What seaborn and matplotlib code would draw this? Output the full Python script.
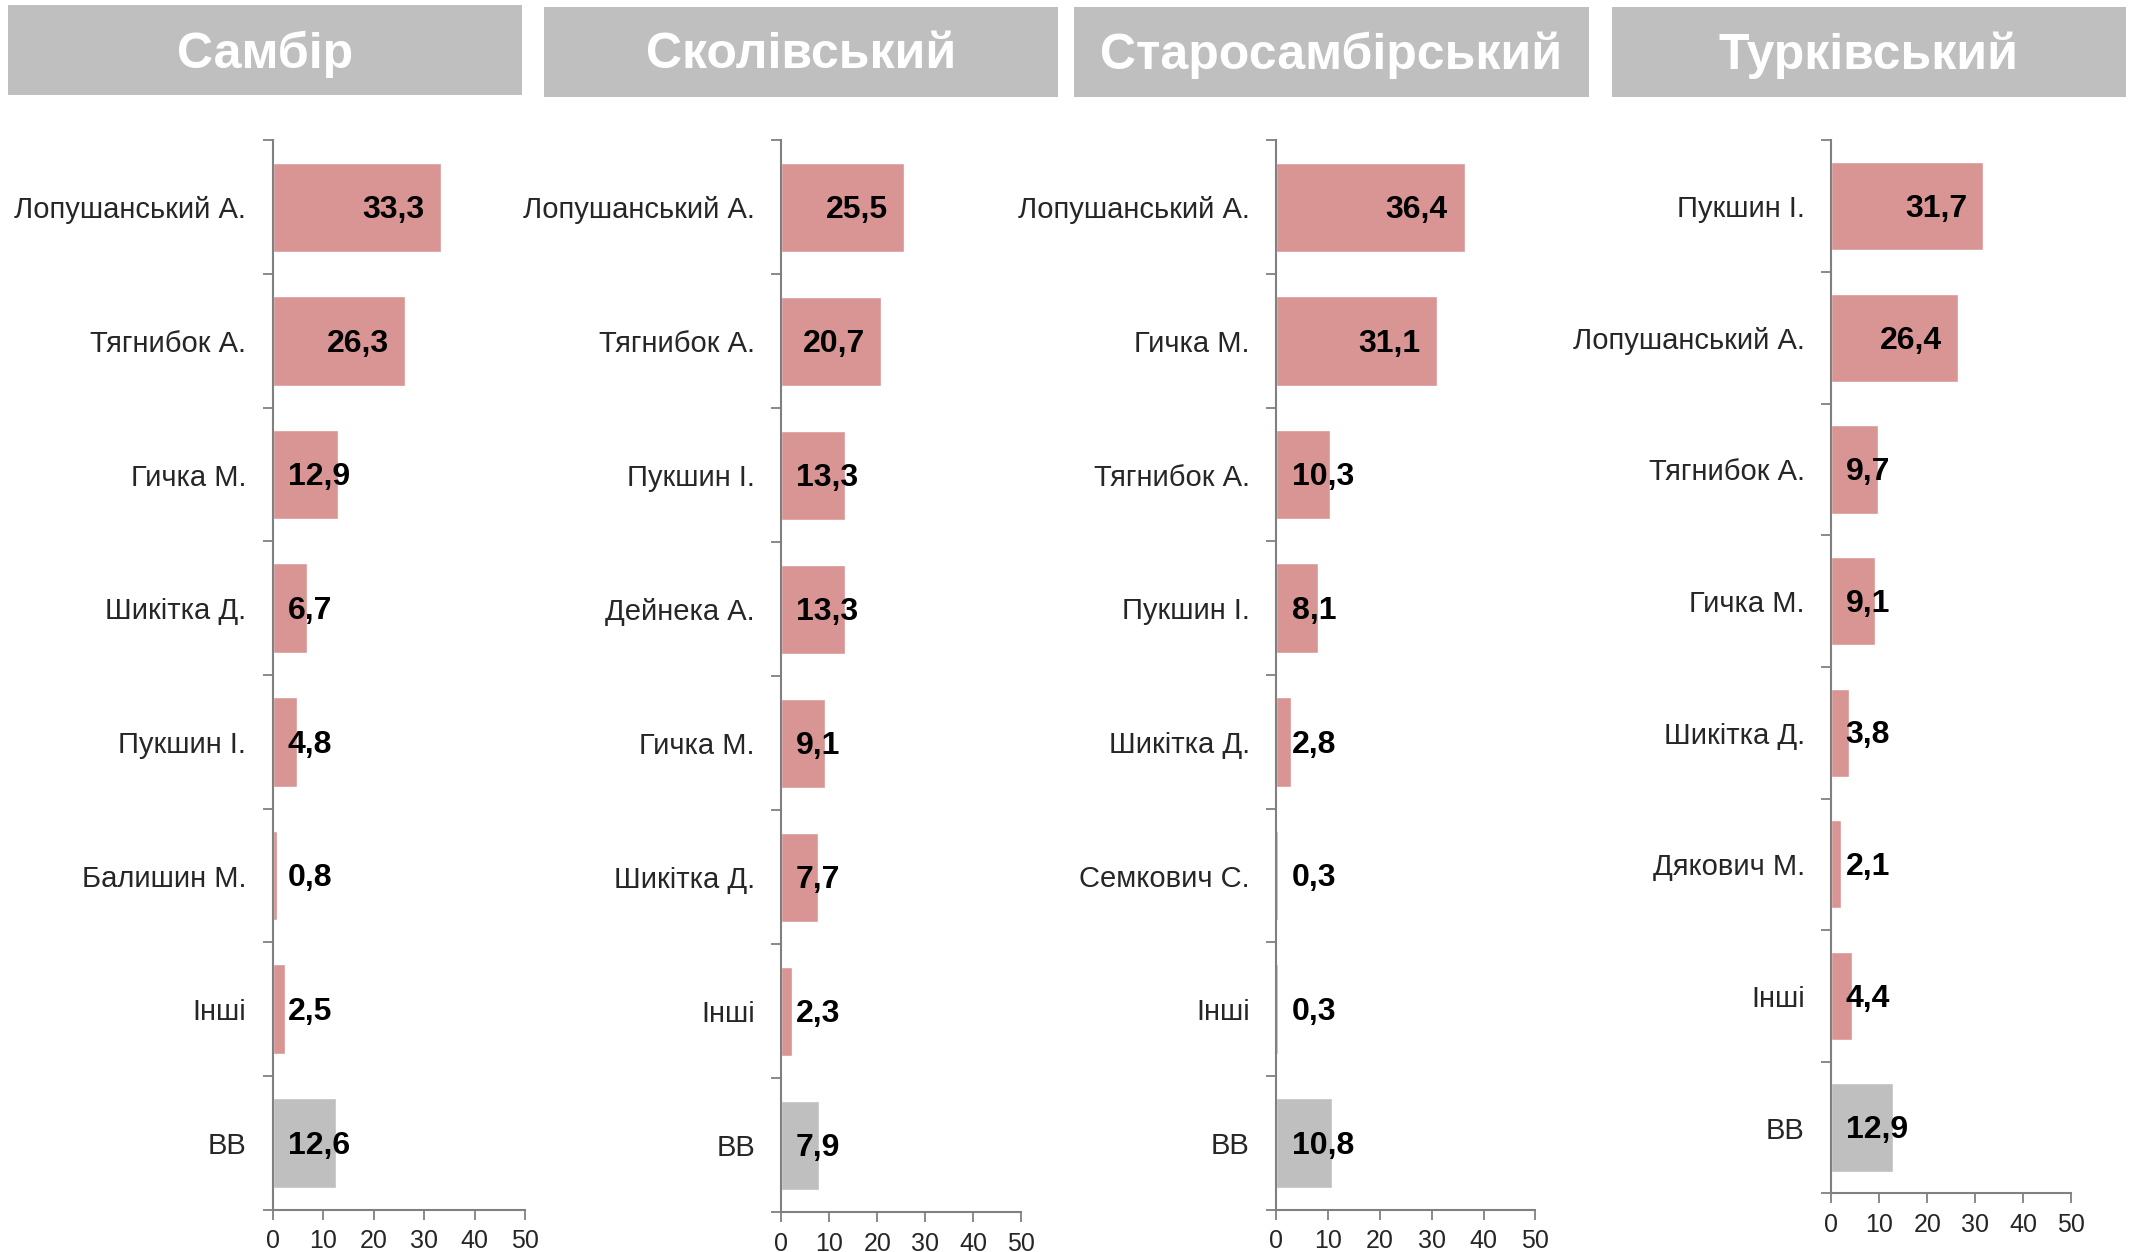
import numpy as np
import pandas as pd
import matplotlib
matplotlib.use("Agg")
import matplotlib.pyplot as plt
from matplotlib.patches import Rectangle
import seaborn as sns

sns.set_theme(style="white")
plt.rcParams['font.family'] = ['Liberation Sans', 'DejaVu Sans']

# ---- data ----
titles = ["Самбір", "Сколівський", "Старосамбірський", "Турківський"]

sambir_names = ["Лопушанський А.", "Тягнибок А.", "Гичка М.", "Шикітка Д.",
                "Пукшин І.", "Балишин М.", "Інші", "ВВ"]
sambir_values = [33.3, 26.3, 12.9, 6.7, 4.8, 0.8, 2.5, 12.6]

skole_names = ["Лопушанський А.", "Тягнибок А.", "Пукшин І.", "Дейнека А.",
               "Гичка М.", "Шикітка Д.", "Інші", "ВВ"]
skole_values = [25.5, 20.7, 13.3, 13.3, 9.1, 7.7, 2.3, 7.9]

starosambir_names = ["Лопушанський А.", "Гичка М.", "Тягнибок А.", "Пукшин І.",
                     "Шикітка Д.", "Семкович С.", "Інші", "ВВ"]
starosambir_values = [36.4, 31.1, 10.3, 8.1, 2.8, 0.3, 0.3, 10.8]

turka_names = ["Пукшин І.", "Лопушанський А.", "Тягнибок А.", "Гичка М.",
               "Шикітка Д.", "Дякович М.", "Інші", "ВВ"]
turka_values = [31.7, 26.4, 9.7, 9.1, 3.8, 2.1, 4.4, 12.9]

x_ticks = [0, 10, 20, 30, 40, 50]

panels = [
    (sambir_names, sambir_values),
    (skole_names, skole_values),
    (starosambir_names, starosambir_values),
    (turka_names, turka_values),
]

# ---- layout (figure fractions) ----
W, H = 1568.0, 918.0
axes_boxes = [  # left, right, top, bottom in reference pixel coords (shrunk)
    (200, 385, 103, 887),
    (573, 749, 103, 889),
    (936, 1126, 103, 887),
    (1343, 1519, 103, 875),
]
header_boxes = [
    (6, 383, 4, 70),
    (399, 776, 5, 71),
    (788, 1165, 5, 71),
    (1182, 1559, 5, 71),
]

PINK = "#D99594"
GRAY = "#BFBFBF"
SPINE = "#808080"

fig = plt.figure(figsize=(21.38, 12.52), dpi=100)

for (names, values), (l, r, t, b), (hl, hr, ht, hb), title in zip(
        panels, axes_boxes, header_boxes, titles):
    ax = fig.add_axes([l / W, 1 - b / H, (r - l) / W, (b - t) / H])
    df = pd.DataFrame({"name": names, "value": values})
    palette = [GRAY if n == "ВВ" else PINK for n in names]
    sns.barplot(data=df, y="name", x="value", hue="name", palette=palette,
                orient="h", width=0.67, legend=False, ax=ax, saturation=1)
    n = len(names)
    ax.set_xlim(0, 50)
    ax.set_ylim(n - 0.5, -0.5)
    ax.set_xlabel("")
    ax.set_ylabel("")
    ax.set_xticks(x_ticks)
    ax.set_xticklabels([str(v) for v in x_ticks], fontsize=18)
    ax.set_yticks(range(n))
    ax.set_yticklabels(names, fontsize=21)
    ax.set_yticks(np.arange(-0.5, n, 1), minor=True)
    ax.tick_params(axis="y", which="major", length=0, pad=19)
    ax.tick_params(axis="y", which="minor", length=7, width=1.3,
                   color=SPINE, direction="out", left=True)
    ax.tick_params(axis="x", which="major", length=7, width=1.3,
                   color=SPINE, direction="out", bottom=True, pad=7)
    for s in ["top", "right"]:
        ax.spines[s].set_visible(False)
    for s in ["left", "bottom"]:
        ax.spines[s].set_color(SPINE)
        ax.spines[s].set_linewidth(1.5)
    ax.grid(False)

    for i, v in enumerate(values):
        lab = f"{v:.1f}".replace(".", ",")
        if v >= 20:
            ax.text(v - 3.3, i + 0.02, lab, ha="right", va="center",
                    fontsize=23, fontweight="bold", color="black")
        else:
            ax.text(3.0, i + 0.02, lab, ha="left", va="center",
                    fontsize=23, fontweight="bold", color="black")

    # header
    fig.patches.append(Rectangle((hl / W, 1 - hb / H), (hr - hl) / W,
                                 (hb - ht) / H, transform=fig.transFigure,
                                 facecolor=GRAY, edgecolor="none", zorder=0))
    fig.text((hl + hr) / 2 / W, 1 - (ht + hb + 5) / 2 / H, title,
             ha="center", va="center", color="white", fontsize=36,
             fontweight="bold")

fig.savefig("out.png", dpi=100, facecolor="white")
